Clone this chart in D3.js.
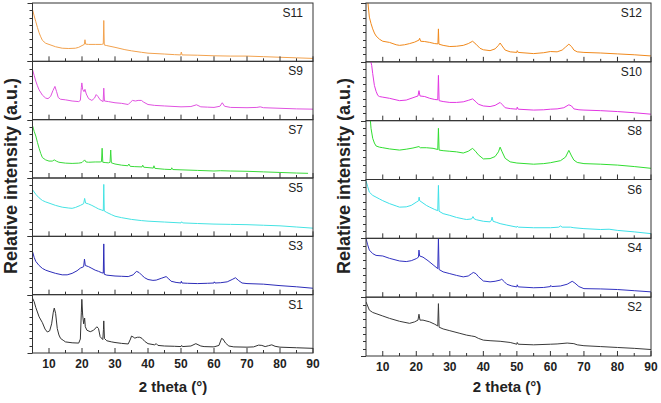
<!DOCTYPE html>
<html><head><meta charset="utf-8">
<script src="https://cdn.jsdelivr.net/npm/d3@7"></script>
<style>body{margin:0;background:#fff}svg{display:block}</style>
</head><body>
<svg id="c" width="661" height="403"></svg>
<script>
// ---- data (2θ, relative intensity 0-100 within each stacked panel) ----
const leftSeries = ["S11","S9","S7","S5","S3","S1"];
const rightSeries = ["S12","S10","S8","S6","S4","S2"];
const xTicksMajor = [10,20,30,40,50,60,70,80,90];
const xTicksMinor = [15,25,35,45,55,65,75,85];
const colors = {S11:"#f2a24e",S12:"#f0891c",S9:"#e052e0",S10:"#e236e2",S7:"#3ada3a",S8:"#30dd30",S5:"#45e3e3",S6:"#3ee0e8",S3:"#2c2cb8",S4:"#3232c0",S1:"#333333",S2:"#3a3a3a"};

const S11 = [[5,89],[5.5,78],[6,68],[6.5,58],[7,49],[7.5,42],[8,36],[9,31],[10,29],[12,25],[14,22.5],[16,22],[18,22.5],[19,24],[20,27],[20.7,29],[20.9,37],[21.1,29.5],[22,29],[24,29],[26,29],[26.45,30],[26.6,70],[26.75,28],[27.5,27],[30,24],[33,20],[35,18],[38,15.5],[40,14],[45,12.5],[48,11.5],[49.9,11],[50.1,16],[50.3,11],[55,10.5],[60,9.5],[65,9],[70,9],[75,8],[80,7],[85,6],[90,5]];
const S9 = [[5,86],[5.5,76],[6,66],[6.5,58],[7,51],[8,42],[9,37],[9.7,36],[10.5,40],[11.2,50],[11.8,57],[12.3,48],[12.8,38],[13.5,35],[15,34],[17,32],[19,31],[19.5,33],[19.8,55],[19.95,63],[20.2,52],[20.6,48],[20.9,52],[21.3,44],[22,36],[23,33],[23.8,37],[24.3,43],[24.8,40],[25.5,34],[26.4,31],[26.6,54],[26.8,32],[28,31],[30,29],[32,28],[34,26],[34.7,30],[35.3,33],[36.2,32],[37,33],[38,33],[38.7,30],[40,26],[42,24.5],[45,23.5],[50,22],[53,22.5],[54.7,25.5],[56,22],[58,21.5],[60,21],[61.8,23],[62.5,29],[63.2,23],[65,21],[70,20.5],[73,21],[74,22],[75,20.5],[80,19.5],[85,18.5],[90,18]];
const S7 = [[5,90],[5.5,80],[6,72],[6.5,61],[7,51],[7.5,42],[8,35],[9,31],[10,29],[11,29],[11.6,31],[12.2,29],[13,27],[15,25.5],[17,25],[19,25.5],[20,26.5],[20.8,31],[21.2,27.5],[22,27],[24,27.5],[25.5,27.5],[25.9,28],[26.1,51],[26.3,27],[27,26.5],[28,26],[28.5,27],[28.7,48],[28.9,26],[30,24],[32,22],[33.9,21],[34.2,24],[34.6,20],[36,19.5],[38.2,19],[38.4,22],[38.7,18.5],[41.6,17],[41.8,21],[42.1,16.5],[45,15],[47,14.5],[47.2,17.5],[47.5,14.5],[50,14],[55,13],[60,12],[62,12.5],[65,12],[70,11.5],[75,10.5],[80,9.5],[85,8.5],[88.5,8]];
const S5 = [[5,80],[6,72],[7,66],[8,61.5],[9,59],[10,57],[12,53],[14,50],[16,48.5],[17,48],[18,49.5],[19.5,53],[20.5,56],[20.8,65],[21.1,57],[22,55.5],[23,53],[24,50],[25,47],[26,45],[26.45,44],[26.6,89],[26.75,43.5],[27.5,41],[29,37],[30,34.5],[32,32],[35,29],[38,27],[40,26],[45,24.5],[50,23],[50.2,25],[50.5,23],[55,22],[60,21],[65,20.5],[70,20],[75,19],[80,18],[85,16],[90,14]];
const S3 = [[5,74],[5.5,64],[6,57],[7,50],[8,45],[9,42],[10,40],[12,36.5],[14,34],[15.5,34],[17,36.5],[18.5,41],[19.5,45.5],[20.5,48],[20.75,61],[21,50],[22,48],[23,45],[24,42],[25,40],[26,37.5],[26.45,37],[26.6,87],[26.75,35],[27.5,33.5],[30,32],[32,31.5],[34,31],[35.5,34],[36.5,40],[37.3,38],[38,34],[39,29],[40,26],[41.5,24.5],[42.5,25],[44,28],[45.5,31],[46.3,27],[47,23],[48.5,21],[50,20],[50.1,23],[50.3,20],[52,19.5],[55,19],[58,19.5],[60,20],[60.1,22],[60.3,20],[62,20.5],[64,22],[65.5,26],[66.5,29],[67.5,24],[68.5,20],[70,19],[75,18],[80,15.5],[85,13.5],[90,11]];
const S1 = [[5,94],[5.5,88],[6,78],[7,62],[8,52],[8.8,41],[9.5,36],[10.2,38],[10.8,50],[11.3,70],[11.6,77],[12,68],[12.5,42],[13,31],[13.5,25],[14.5,21],[15,19],[17,17.5],[19,17],[19.5,24],[19.8,70],[19.95,92],[20.2,65],[20.5,50],[20.8,60],[21,45],[21.5,39],[22.5,36.5],[23.5,39],[24.5,45],[25,42],[25.5,28],[26.3,23],[26.5,40],[26.6,55],[26.8,25],[27.5,21],[29,19],[30,18],[32,16.5],[34,15.5],[34.7,24],[35,29],[35.5,27.5],[36,25.5],[36.8,27],[37.5,27],[38.2,25],[39,20],[40,16],[42,14],[42.5,16],[43,13],[45,12],[48,11.5],[50,11],[50.2,13],[50.4,11],[53,12],[54.5,16],[56,12],[57,11],[60,10.5],[61.5,13],[62.3,25],[62.7,24],[63.5,17],[64.5,12],[66,10.5],[70,10],[72,10.5],[73.5,13.5],[74.5,13],[75.5,11],[76.5,12.5],[77.5,14],[78.5,11.5],[80,10],[85,9],[90,8]];
const S12 = [[5.5,105],[6,76],[6.5,65],[7,56],[7.5,49],[8,44],[9,38.5],[10,35],[12,33],[14,29],[15,28],[16.5,29],[18,31],[19.5,33.5],[20.8,37],[21,40],[21.3,35],[22.5,34.5],[24,33],[25.5,31],[26.45,30.5],[26.6,56],[26.75,30],[28,28],[30,26],[32,26.5],[34,28],[35.5,31],[36.8,35],[37.8,30],[39,23],[40,20.5],[42,19],[43.5,22],[44.5,28],[45,32],[45.6,27],[46.5,20],[48,17],[50,16],[50.1,19],[50.4,16],[55,14],[58,15.5],[60,17.5],[62,17],[63.5,20],[64.5,25],[65.5,30],[66.3,26],[67,20],[68,17],[70,16],[75,15],[80,13.5],[85,12],[90,10]];
const S10 = [[6.4,101],[6.7,94],[7,80],[7.5,60],[8,50],[8.5,43],[9,41],[10,40],[12,38],[15,34],[17,35],[19,39],[20.5,42],[20.8,51],[21.1,42],[22.5,41],[24,38],[25.5,36],[26.4,35.5],[26.6,77],[26.8,34],[28,32.5],[30,31],[32,31],[34,32],[35.5,34.5],[36.8,37],[37.8,32],[38.5,28],[40,25],[42,24],[43.5,26],[45,31],[45.7,27],[46.5,22],[48,20.5],[50,19.5],[50.1,23],[50.4,19.5],[55,18],[58,18.5],[60,19.5],[62,20],[64,22],[65.5,27],[66.3,25],[67,20],[68.5,18.5],[70,18],[75,17],[80,15.5],[85,13.5],[90,11]];
const S8 = [[6.3,101],[6.5,87],[7,70],[7.5,62],[8,57],[9,55],[10,54],[12,52],[15,50],[17,51.5],[19,53.5],[20.8,56],[21.2,54],[23,54],[25,53],[26.4,51],[26.6,87],[26.8,50],[28,49],[30,48],[32,47],[34,45],[35.5,48],[36.8,53],[37.8,47],[38.5,42],[40,35],[42,35.5],[43.5,39],[44.5,47],[45,55],[45.6,47],[46.5,36],[48,30],[50,28],[55,26],[58,27],[60,28.5],[63,32],[64.5,38],[65.5,49.5],[66.3,40],[67,33],[68,29],[70,27],[75,26],[80,24.5],[85,22],[90,19]];
const S6 = [[5,98],[5.5,88],[6,78.5],[7,73],[8,70],[9,67],[10,64],[12,59],[14,55],[15,53],[17,53.5],[18.5,56],[20,61.5],[20.7,64],[20.85,70],[21,64],[22,60],[23,56],[24,53],[25.5,49],[26.4,47],[26.6,90],[26.8,46],[28,42],[30,39],[32,35.5],[34,33],[35,32],[36.5,33],[36.9,37],[37.3,33],[38,31.5],[40,29],[42,28],[42.4,31],[42.6,36],[42.9,29],[44,27],[45,25],[47,22.5],[50,19],[50.1,20.5],[50.4,19],[55,18],[60,18],[62.5,19],[63,21],[63.5,19],[66,19],[67,18],[70,16.5],[75,15],[77.5,15.5],[80,13.5],[85,11],[90,8]];
const S4 = [[5,100],[5.5,89],[6,80],[7,74],[8,71],[10,70],[12,66],[15,61.5],[17,60.5],[18.5,62],[20,65.5],[20.65,68],[20.8,80],[21,70],[22,68],[23.5,62],[25,55],[26.4,48.5],[26.6,100],[26.8,47],[28,43],[30,40],[32,37],[34,34.5],[35.5,36],[36.5,40],[37,42],[37.8,40],[38.5,35],[40,27.5],[42,26],[43.5,27],[45,29],[45.5,30.5],[46.3,26],[47,22],[48.5,19],[50,17.5],[50.1,21],[50.4,17.5],[55,16],[58,16.5],[60,18],[60.1,20],[60.4,18],[63,19],[65,22],[66.5,27],[67.3,24],[68.5,18],[70,14.5],[75,14],[80,13],[85,11],[90,9]];
const S2 = [[5,92],[5.5,85],[6,78],[7,74],[8,72],[10,68],[12,64],[15,59],[18,55.5],[19.5,58],[20.5,61],[20.8,71],[21.1,61],[22,61],[24,58],[25.5,54],[26.4,51],[26.6,89],[26.8,49],[28,46],[30,43],[33,38.5],[35,35.5],[36.5,34],[37.5,33],[38.5,30],[40,27],[42,26],[45,25],[48,23],[50,20],[50.1,23],[50.4,20],[55,19],[60,20],[62,20.5],[65,22],[67,21],[68,19],[70,17.5],[75,16],[80,14.5],[85,13],[90,11]];
const seriesData = {S1,S2,S3,S4,S5,S6,S7,S8,S9,S10,S11,S12};

// ---- drawing ----
const svg = d3.select("#c");
const font = "'Liberation Sans', Arial, sans-serif";
const blocks = [
  {names:leftSeries, x0:32.5, x1:313, y0:3, y1:353, labelX:11, titleX:173, lblRight:303},
  {names:rightSeries, x0:366, x1:651, y0:3, y1:356, labelX:344, titleX:507, lblRight:642}
];

blocks.forEach((b,bi)=>{
  const x = d3.scaleLinear().domain([5,90]).range([b.x0,b.x1]);
  const ph = (b.y1-b.y0)/b.names.length;
  b.names.forEach((name,i)=>{
    const top = b.y0 + i*ph, bot = top+ph;
    const y = d3.scaleLinear().domain([0,100]).range([bot,top]);
    const id = "clip"+bi+"_"+i;
    svg.append("clipPath").attr("id",id).append("rect")
      .attr("x",b.x0).attr("y",top).attr("width",b.x1-b.x0).attr("height",ph);
    const g = svg.append("g");
    // curve
    g.append("path").datum(seriesData[name])
      .attr("clip-path","url(#"+id+")")
      .attr("fill","none").attr("stroke",colors[name]).attr("stroke-width",1)
      .attr("stroke-linejoin","round")
      .attr("d", d3.line().x(d=>x(d[0])).y(d=>y(d[1])));
    // y ticks (outward, left)
    const yt = d3.range(0,101,12.5);
    g.selectAll("line.yt").data(yt).join("line")
      .attr("x1",d=> (d===0||d===100)? b.x0-5 : b.x0-3).attr("x2",b.x0)
      .attr("y1",d=>Math.round(y(d))+0.5).attr("y2",d=>Math.round(y(d))+0.5)
      .attr("stroke","#333").attr("stroke-width",1);
    // x ticks (inward, up)
    g.selectAll("line.xM").data(xTicksMajor).join("line")
      .attr("x1",d=>x(d)).attr("x2",d=>x(d)).attr("y1",bot).attr("y2",bot-5)
      .attr("stroke","#333");
    g.selectAll("line.xm").data(xTicksMinor).join("line")
      .attr("x1",d=>x(d)).attr("x2",d=>x(d)).attr("y1",bot).attr("y2",bot-3)
      .attr("stroke","#333");
    // frame
    g.append("rect").attr("x",b.x0).attr("y",top).attr("width",b.x1-b.x0).attr("height",ph)
      .attr("fill","none").attr("stroke","#333").attr("stroke-width",1);
    // label
    g.append("text").attr("x",b.lblRight).attr("y",top+14).attr("text-anchor","end")
      .attr("font-family",font).attr("font-size",12).attr("fill","#222").text(name);
  });
  // x tick labels
  svg.append("g").selectAll("text").data(xTicksMajor).join("text")
    .attr("x",d=>x(d)).attr("y",b.y1+15).attr("text-anchor","middle")
    .attr("font-family",font).attr("font-size",12).attr("font-weight","bold").attr("fill","#222")
    .text(d=>d);
  svg.append("text").attr("x",b.titleX).attr("y",392).attr("text-anchor","middle")
    .attr("font-family",font).attr("font-size",15).attr("font-weight","bold").attr("fill","#222")
    .text("2 theta (°)");
  svg.append("text").attr("transform","translate("+(b.labelX+6)+","+176+") rotate(-90)")
    .attr("text-anchor","middle")
    .attr("font-family",font).attr("font-size",18).attr("font-weight","bold").attr("fill","#222")
    .text("Relative intensity (a.u.)");
});
</script>
</body></html>
